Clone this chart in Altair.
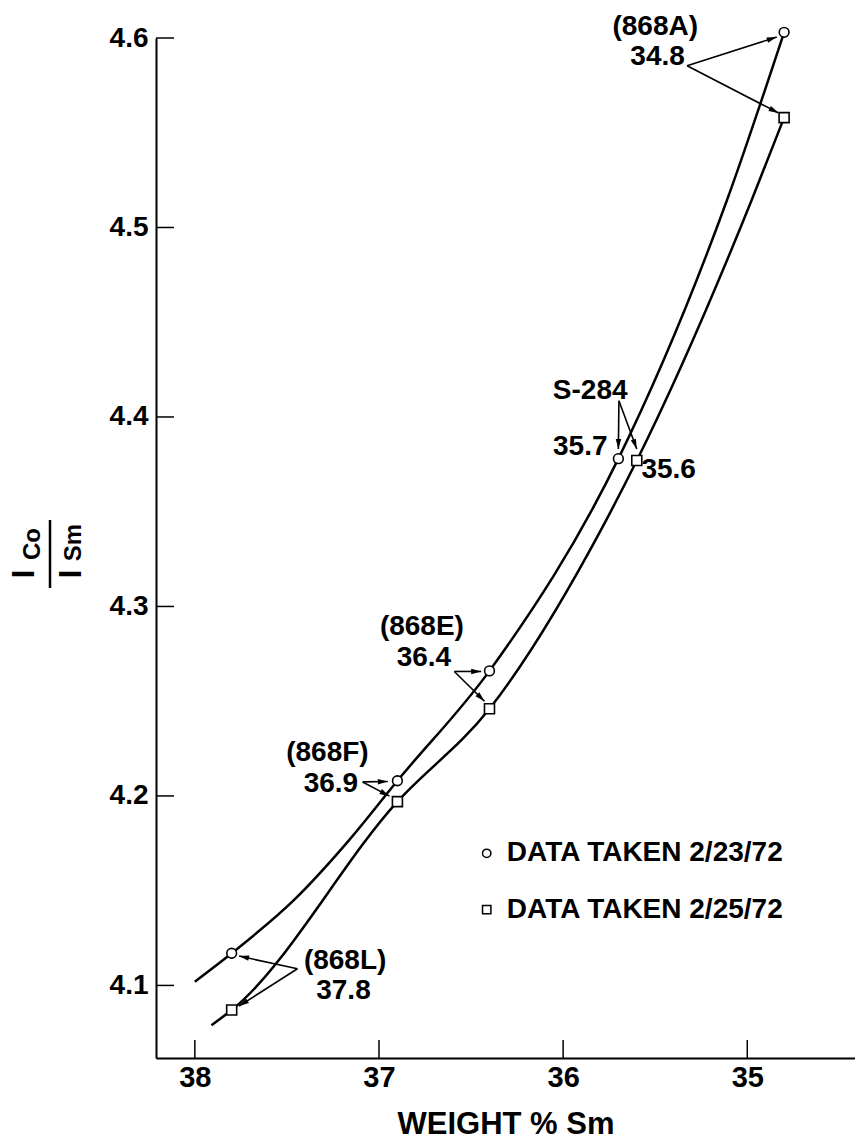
import math
import altair as alt
import pandas as pd

FONT = "Liberation Sans"

# Plot geometry (plot area in px) and axis ranges
W, H = 699, 1020
X_MIN, X_MAX = 34.415, 38.211          # weight % Sm, axis runs from high to low
Y_MIN, Y_MAX = 4.0617, 4.60

# Measured samples: run of 2/23/72 (circles) and run of 2/25/72 (squares)
circle_x = [37.8, 36.9, 36.4, 35.7, 34.8]
circle_y = [4.117, 4.208, 4.266, 4.378, 4.603]
square_x = [37.8, 36.9, 36.4, 35.6, 34.8]
square_y = [4.087, 4.197, 4.246, 4.377, 4.558]

# Hand-faired curves through each run (including the short low-Sm tails)
circle_curve_x = [38.0, 37.8, 37.461, 37.161, 36.9, 36.4, 35.7, 35.110, 34.8]
circle_curve_y = [4.102, 4.117, 4.1451, 4.1768, 4.208, 4.266, 4.378, 4.5145, 4.603]
square_curve_x = [37.91, 37.8, 36.9, 36.4, 35.766, 35.6, 34.976, 34.8]
square_curve_y = [4.079, 4.087, 4.197, 4.246, 4.3456, 4.377, 4.5145, 4.558]

# Axis ticks
x_ticks = [38, 37, 36, 35]
y_ticks = [4.1, 4.2, 4.3, 4.4, 4.5, 4.6]

# Sample callouts
label_text = ["(868A)", "34.8", "S-284", "35.7", "35.6",
              "(868E)", "36.4", "(868F)", "36.9", "(868L)", "37.8"]
label_x = [35.50, 35.487, 35.650, 35.759, 35.575,
           36.767, 36.756, 37.280, 37.261, 37.184, 37.193]
label_y = [4.6058, 4.5900, 4.4137, 4.3842, 4.3720,
           4.2889, 4.2726, 4.2224, 4.2061, 4.1128, 4.0970]
label_align = ["center", "center", "right", "right", "left",
               "center", "center", "center", "center", "center", "center"]

# Leader arrows: start (at the label) and tip (at the sample marker)
arrow_x0 = [35.327, 35.327, 35.697, 35.697, 36.591, 36.591, 37.089, 37.089, 37.443, 37.443]
arrow_y0 = [4.5854, 4.5854, 4.4086, 4.4086, 4.2657, 4.2657, 4.2074, 4.2074, 4.1088, 4.1088]
arrow_x1 = [34.840, 34.830, 35.700, 35.600, 36.445, 36.427, 36.952, 36.943, 37.760, 37.760]
arrow_y1 = [4.6005, 4.5604, 4.3831, 4.3831, 4.2657, 4.2500, 4.2076, 4.1999, 4.1155, 4.0891]

# Legend
legend_text = ["DATA TAKEN 2/23/72", "DATA TAKEN 2/25/72"]
legend_shape = ["circle", "square"]
legend_sym_x = 36.415
legend_text_x = 36.306
legend_y = [4.1697, 4.1400]

x_scale = alt.Scale(domain=[X_MIN, X_MAX], reverse=True, nice=False, zero=False)
y_scale = alt.Scale(domain=[Y_MIN, Y_MAX], nice=False, zero=False)

# ---- tables -------------------------------------------------------------
curve_rows = []
for seq, (x, y) in enumerate(zip(circle_curve_x, circle_curve_y)):
    curve_rows.append({"run": "a", "seq": seq, "x": x, "y": y})
for seq, (x, y) in enumerate(zip(square_curve_x, square_curve_y)):
    curve_rows.append({"run": "b", "seq": seq, "x": x, "y": y})
curves = pd.DataFrame(curve_rows)

circles = pd.DataFrame({"x": circle_x, "y": circle_y})
squares = pd.DataFrame({"x": square_x, "y": square_y})

labels = pd.DataFrame({"text": label_text, "x": label_x, "y": label_y, "align": label_align})

px_per_x = W / (X_MAX - X_MIN)
px_per_y = H / (Y_MAX - Y_MIN)
angles = []
for x0, y0, x1, y1 in zip(arrow_x0, arrow_y0, arrow_x1, arrow_y1):
    dx = -(x1 - x0) * px_per_x          # reversed axis
    dy = -(y1 - y0) * px_per_y          # screen y grows downward
    angles.append(math.degrees(math.atan2(dy, dx)) % 360)
arrows = pd.DataFrame({"x0": arrow_x0, "y0": arrow_y0, "x1": arrow_x1,
                       "y1": arrow_y1, "angle": angles})

legend = pd.DataFrame({"text": legend_text, "shape": legend_shape,
                       "sx": [legend_sym_x] * 2, "tx": [legend_text_x] * 2, "y": legend_y})

xt = pd.DataFrame({"v": x_ticks})
yt = pd.DataFrame({"v": y_ticks})

# ---- layers -------------------------------------------------------------
X = lambda f: alt.X(f"{f}:Q", scale=x_scale)
Y = lambda f: alt.Y(f"{f}:Q", scale=y_scale)

x_axis = alt.Chart(xt).mark_point(opacity=0).encode(
    x=alt.X("v:Q", scale=x_scale,
            axis=alt.Axis(values=x_ticks, format="d", title="WEIGHT % Sm", grid=False,
                          ticks=False, domainColor="black", domainWidth=2,
                          labelFont=FONT, labelFontSize=29, labelFontWeight="bold",
                          labelColor="black", labelPadding=5,
                          titleFont=FONT, titleFontSize=31, titleFontWeight="bold",
                          titleColor="black", titlePadding=17)),
    y=alt.value(0),
)

y_axis = alt.Chart(yt).mark_point(opacity=0).encode(
    y=alt.Y("v:Q", scale=y_scale,
            axis=alt.Axis(values=y_ticks, format=".1f", title="", grid=False,
                          ticks=False, domainColor="black", domainWidth=2,
                          labelFont=FONT, labelFontSize=28, labelFontWeight="bold",
                          labelColor="black", labelPadding=8)),
    x=alt.value(0),
)

x_tick_rules = alt.Chart(xt).mark_rule(color="black", strokeWidth=1.5).encode(
    x=X("v"), y=alt.value(H), y2=alt.value(H - 18))
y_tick_rules = alt.Chart(yt).mark_rule(color="black", strokeWidth=1.5).encode(
    y=Y("v"), x=alt.value(0), x2=alt.value(18))

lines = alt.Chart(curves).mark_line(interpolate="monotone", color="black",
                                    strokeWidth=2.5).encode(
    x=X("x"), y=Y("y"), detail="run:N", order="seq:Q")

circle_pts = alt.Chart(circles).mark_point(shape="circle", size=95, filled=True,
                                           fill="white", stroke="black",
                                           strokeWidth=1.6, opacity=1).encode(
    x=X("x"), y=Y("y"))
square_pts = alt.Chart(squares).mark_point(shape="square", size=100, filled=True,
                                           fill="white", stroke="black",
                                           strokeWidth=1.6, opacity=1).encode(
    x=X("x"), y=Y("y"))

leaders = alt.Chart(arrows).mark_rule(color="black", strokeWidth=1.6).encode(
    x=X("x0"), y=Y("y0"), x2="x1:Q", y2="y1:Q")
heads = alt.Chart(arrows).mark_point(shape="M0,0L-2,-0.55L-2,0.55Z", size=100,
                                     filled=True, color="black", opacity=1).encode(
    x=X("x1"), y=Y("y1"), angle=alt.Angle("angle:Q", scale=None))

text_layers = []
for a in ["center", "left", "right"]:
    text_layers.append(
        alt.Chart(labels).transform_filter(alt.datum.align == a).mark_text(
            align=a, baseline="middle", font=FONT, fontSize=28, fontWeight="bold",
            color="black").encode(x=X("x"), y=Y("y"), text="text:N"))

legend_syms = alt.Chart(legend).mark_point(size=70, filled=True, fill="white",
                                           stroke="black", strokeWidth=1.5,
                                           opacity=1).encode(
    x=X("sx"), y=Y("y"),
    shape=alt.Shape("shape:N", scale=None, legend=None))
legend_txt = alt.Chart(legend).mark_text(align="left", baseline="middle", font=FONT,
                                         fontSize=28, fontWeight="bold",
                                         color="black").encode(
    x=X("tx"), y=Y("y"), text="text:N")

# Ratio title  I_Co / I_Sm, set vertically left of the axis
OX, OY = 156, 38
title_parts = pd.DataFrame({
    "t": ["I", "Co", "I", "Sm"],
    "px": [24.5 - OX, 32.5 - OX, 71.5 - OX, 74 - OX],
    "py": [574 - OY, 544 - OY, 574 - OY, 542.5 - OY],
    "fs": [31, 24, 31, 24],
})
title_text = alt.Chart(title_parts).mark_text(
    angle=270, align="center", baseline="middle", font=FONT, fontWeight="bold",
    color="black").encode(
    x=alt.X("px:Q", scale=None), y=alt.Y("py:Q", scale=None), text="t:N",
    size=alt.Size("fs:Q", scale=None, legend=None))
title_bar = alt.Chart(pd.DataFrame({"a": [0]})).mark_rule(
    color="black", strokeWidth=2.5).encode(
    x=alt.value(50 - OX), y=alt.value(520 - OY), y2=alt.value(588 - OY))

chart = alt.layer(
    x_axis, y_axis, x_tick_rules, y_tick_rules, lines, leaders, heads,
    circle_pts, square_pts, *text_layers, legend_syms, legend_txt,
    title_text, title_bar,
).properties(
    width=W, height=H, autosize="none",
    padding={"left": OX, "top": OY, "right": 0, "bottom": 1140 - OY - H},
    background="white",
).configure_view(strokeWidth=0)

chart.save("out.html", embed_options={"renderer": "svg", "actions": False})
